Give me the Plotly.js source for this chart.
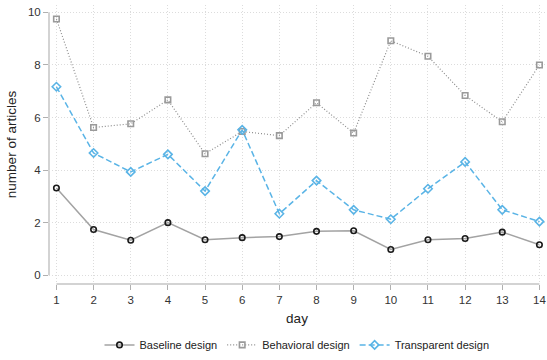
<!DOCTYPE html>
<html>
<head>
<meta charset="utf-8">
<script src="https://cdn.plot.ly/plotly-3.0.1.min.js"></script>
<style>html,body{margin:0;padding:0;background:#fff;}#chart{width:547px;height:360px;}</style>
</head>
<body>
<div id="chart"></div>
<script>
var days = [1,2,3,4,5,6,7,8,9,10,11,12,13,14];
var baseline = [3.32,1.74,1.33,2.0,1.35,1.43,1.47,1.67,1.69,0.98,1.35,1.40,1.64,1.16];
var behavioral = [9.75,5.62,5.76,6.67,4.62,5.47,5.31,6.56,5.41,8.92,8.33,6.84,5.84,8.0];
var transparent = [7.17,4.65,3.93,4.6,3.2,5.53,2.34,3.6,2.49,2.13,3.29,4.31,2.49,2.04];
var seriesNames = ['Baseline design','Behavioral design','Transparent design'];
var yTicks = [0,2,4,6,8,10];

var traces = [
  {x: days, y: baseline, name: seriesNames[0], mode: 'lines+markers', type: 'scatter',
   line: {color: '#a3a3a3', width: 1.5},
   marker: {symbol: 'circle-open', size: 5.5, color: '#1a1a1a', line: {width: 1.6, color: '#1a1a1a'}}},
  {x: days, y: behavioral, name: seriesNames[1], mode: 'lines+markers', type: 'scatter',
   line: {color: '#8c8c8c', width: 1.2, dash: '1px,2px'},
   marker: {symbol: 'square-open', size: 5.5, color: '#9a9a9a', line: {width: 1.6, color: '#9a9a9a'}}},
  {x: days, y: transparent, name: seriesNames[2], mode: 'lines+markers', type: 'scatter',
   line: {color: '#5ab4e6', width: 1.5, dash: '6px,3px'},
   marker: {symbol: 'diamond-open', size: 6.5, color: '#5ab4e6', line: {width: 1.6, color: '#5ab4e6'}}}
];

var layout = {
  width: 547, height: 360,
  margin: {l: 49, r: 2, t: 5, b: 75},
  paper_bgcolor: '#fff', plot_bgcolor: '#fff',
  font: {family: 'Liberation Sans, Arial, sans-serif', size: 11, color: '#333'},
  showlegend: true,
  legend: {orientation: 'h', x: 0.5, xanchor: 'center', y: -0.214, yanchor: 'middle',
           font: {size: 11, color: '#222'}, itemwidth: 30},
  xaxis: {range: [0.8, 14.15], tickvals: days, ticktext: days.map(String),
          showgrid: true, gridcolor: '#dcdcdc', griddash: '1px,2px', gridwidth: 1,
          zeroline: false, showline: false, ticks: 'outside', ticklen: 5, tickcolor: '#b0b0b0',
          tickfont: {size: 11.5, color: '#333'},
          title: {text: 'day', font: {size: 13.5, color: '#222'}, standoff: 8}},
  yaxis: {range: [-0.333, 10.28], tickvals: yTicks, ticktext: yTicks.map(String),
          showgrid: true, gridcolor: '#dcdcdc', griddash: '1px,2px', gridwidth: 1,
          zeroline: false, showline: false, ticks: 'outside', ticklen: 5, tickcolor: '#b0b0b0',
          tickfont: {size: 11.5, color: '#333'},
          title: {text: 'number of articles', font: {size: 13.5, color: '#222'}, standoff: 8}},
  shapes: [
    {type: 'line', xref: 'paper', yref: 'y', x0: 0, x1: 0, y0: 0, y1: 10, line: {color: '#c4c4c4', width: 1.5}, layer: 'below'},
    {type: 'line', xref: 'x', yref: 'paper', x0: 1, x1: 14, y0: 0, y1: 0, line: {color: '#c4c4c4', width: 1.5}, layer: 'below'}
  ]
};

Plotly.newPlot('chart', traces, layout, {displayModeBar: false, staticPlot: true});
</script>
</body>
</html>
